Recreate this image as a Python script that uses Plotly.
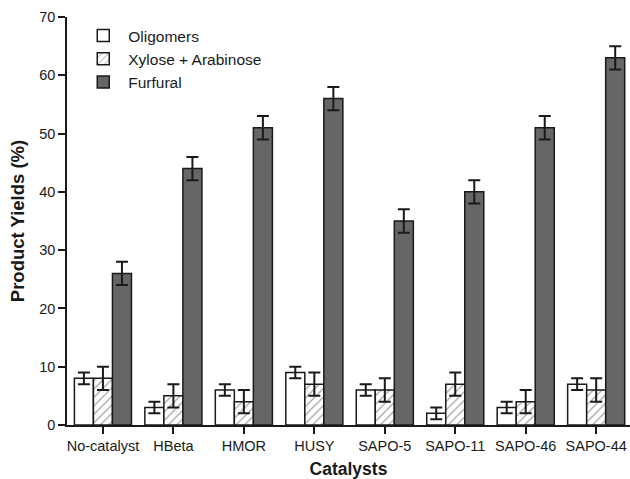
import plotly.graph_objects as go

categories = ["No-catalyst", "HBeta", "HMOR", "HUSY", "SAPO-5", "SAPO-11", "SAPO-46", "SAPO-44"]
oligomers = [8, 3, 6, 9, 6, 2, 3, 7]
oligomers_err = [1, 1, 1, 1, 1, 1, 1, 1]
xylose = [8, 5, 4, 7, 6, 7, 4, 6]
xylose_err = [2, 2, 2, 2, 2, 2, 2, 2]
furfural = [26, 44, 51, 56, 35, 40, 51, 63]
furfural_err = [2, 2, 2, 2, 2, 2, 2, 2]

err_style = dict(type="data", thickness=2, width=6, color="#1a1a1a")
line = dict(color="#1a1a1a", width=1.5)

fig = go.Figure()
fig.add_trace(go.Bar(
    name="Oligomers", x=categories, y=oligomers,
    error_y=dict(array=oligomers_err, **err_style),
    marker=dict(color="white", line=line),
))
fig.add_trace(go.Bar(
    name="Xylose + Arabinose", x=categories, y=xylose,
    error_y=dict(array=xylose_err, **err_style),
    marker=dict(color="white", line=line,
                pattern=dict(shape="/", fgcolor="#444444", bgcolor="white", size=6, solidity=0.2)),
))
fig.add_trace(go.Bar(
    name="Furfural", x=categories, y=furfural,
    error_y=dict(array=furfural_err, **err_style),
    marker=dict(color="#666666", line=line),
))

fig.update_layout(
    width=630, height=479,
    margin=dict(l=67, r=0, t=17, b=54, autoexpand=False),
    paper_bgcolor="white", plot_bgcolor="white",
    barmode="group", bargap=0.19, bargroupgap=0,
    font=dict(family="Liberation Sans, Arial", size=14, color="#1a1a1a"),
    showlegend=True,
    legend=dict(x=0.02, y=0.995, xanchor="left", yanchor="top",
                font=dict(size=15.5), bgcolor="rgba(0,0,0,0)",
                itemwidth=40, tracegroupgap=0),
    xaxis=dict(
        range=[-0.51, 7.48], showline=True, linecolor="#1a1a1a", linewidth=1.5,
        ticks="outside", ticklen=7, tickwidth=1.5, tickcolor="#1a1a1a",
        tickfont=dict(size=14.5),
        title=dict(text="<b>Catalysts</b>", font=dict(size=17.5), standoff=10),
    ),
    yaxis=dict(
        range=[0, 70], dtick=10, showline=True, linecolor="#1a1a1a", linewidth=1.5,
        ticks="outside", ticklen=7, tickwidth=1.5, tickcolor="#1a1a1a",
        showgrid=False, zeroline=False, tickfont=dict(size=14.5),
        title=dict(text="<b>Product Yields (%)</b>", font=dict(size=18.5), standoff=10),
    ),
)

fig.write_html("out.html", config={"displayModeBar": False},
               post_script="document.body.style.margin='0';")
